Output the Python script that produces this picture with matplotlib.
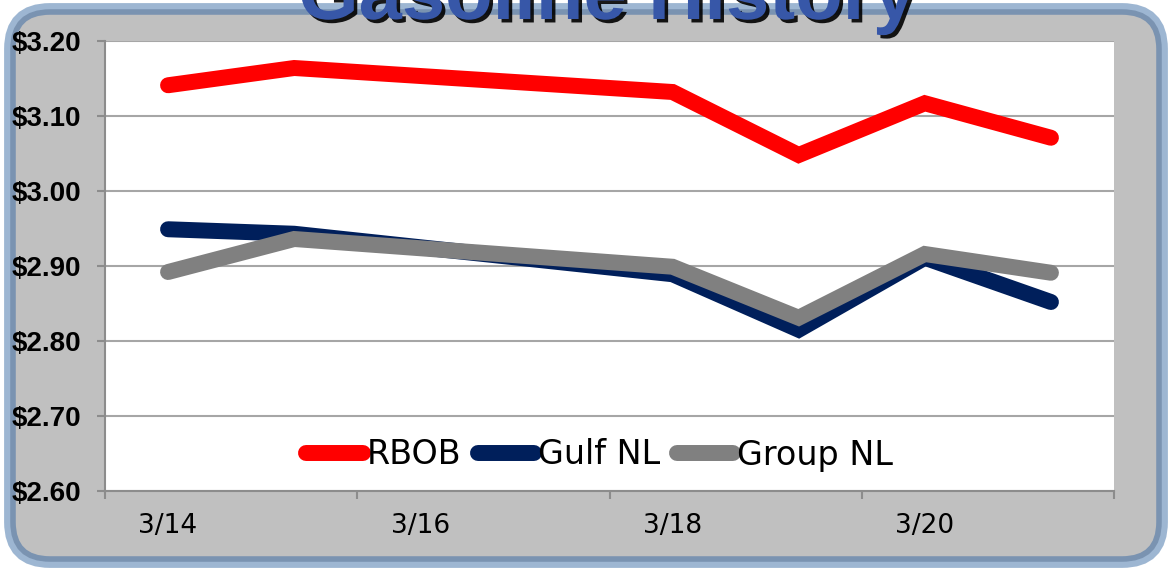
import numpy as np
import matplotlib.pyplot as plt
import matplotlib.patheffects as pe
from matplotlib.patches import FancyBboxPatch
from matplotlib.ticker import FuncFormatter

# data (trading days only)
dates = ['3/14', '3/15', '3/18', '3/19', '3/20', '3/21']
rbob = [3.141, 3.164, 3.132, 3.048, 3.117, 3.071]
gulf_nl = [2.949, 2.943, 2.889, 2.815, 2.911, 2.852]
group_nl = [2.892, 2.936, 2.899, 2.831, 2.916, 2.891]
tick_labels = ['3/14', '3/16', '3/18', '3/20']

days = [int(d.split('/')[1]) for d in dates]
tick_days = [int(d.split('/')[1]) for d in tick_labels]

W, H = 1169, 572
fig = plt.figure(figsize=(W / 100, H / 100), dpi=100)

# rounded gray panel with blue frame
bg = fig.add_axes([0, 0, 1, 1])
bg.set_zorder(-1)
bg.set_xlim(0, W)
bg.set_ylim(0, H)
bg.axis('off')
bg.add_patch(FancyBboxPatch((10, 10), 1152, 553, boxstyle='round,pad=0,rounding_size=40',
                            facecolor='#c0c0c0', edgecolor='#9db6d2', lw=8.5))
bg.add_patch(FancyBboxPatch((13, 13), 1146, 547, boxstyle='round,pad=0,rounding_size=37',
                            facecolor='#c0c0c0', edgecolor='#7a93b1', lw=4))

# title, mostly cut off at the top
fig.text(607 / W, 1 - 19 / H, 'Gasoline History', ha='center', va='baseline',
         fontsize=56, weight='bold', color='#3757a8', family='Liberation Sans',
         path_effects=[pe.SimplePatchShadow(offset=(2.5, -2.5), shadow_rgbFace='black', alpha=0.9),
                       pe.Normal()])

ax = fig.add_axes([105 / W, 81 / H, 1009 / W, 450 / H])
ax.set_facecolor('white')

lw = 11.5
ax.plot(days, rbob, color='#ff0000', lw=lw, solid_capstyle='round', solid_joinstyle='miter', label='RBOB')
ax.plot(days, gulf_nl, color='#001f5b', lw=lw, solid_capstyle='round', solid_joinstyle='miter', label='Gulf NL')
ax.plot(days, group_nl, color='#808080', lw=lw, solid_capstyle='round', solid_joinstyle='miter', label='Group NL')

ax.set_ylim(2.6, 3.2)
ax.set_yticks(np.arange(2.6, 3.21, 0.1))
ax.yaxis.set_major_formatter(FuncFormatter(lambda v, p: '${:.2f}'.format(v)))
ax.yaxis.grid(True, color='#a6a6a6', lw=1.5)
ax.set_axisbelow(True)

ax.set_xlim(13.5, 21.5)
ax.set_xticks(tick_days)
ax.set_xticklabels(tick_labels)
ax.set_xticks(np.arange(13.5, 21.6, 2), minor=True)

for s in ['top', 'right']:
    ax.spines[s].set_visible(False)
for s in ['left', 'bottom']:
    ax.spines[s].set_color('#8c8c8c')
    ax.spines[s].set_linewidth(1.5)

ax.tick_params(axis='y', length=6, width=1.5, color='#8c8c8c', pad=11)
ax.tick_params(axis='x', which='major', length=0, pad=16)
ax.tick_params(axis='x', which='minor', length=6, width=1.5, color='#8c8c8c')
for t in ax.get_yticklabels():
    t.set_fontfamily('Liberation Sans')
    t.set_fontweight('bold')
    t.set_fontsize(20)
for t in ax.get_xticklabels():
    t.set_fontfamily('DejaVu Sans')
    t.set_fontsize(19)

ax.legend(loc='center', bbox_to_anchor=(0.49, 0.08), ncol=3, frameon=False,
          handlelength=1.7, handletextpad=0.1, columnspacing=0.5,
          prop=dict(family='DejaVu Sans', size=24))

fig.savefig('out.png', dpi=100)
